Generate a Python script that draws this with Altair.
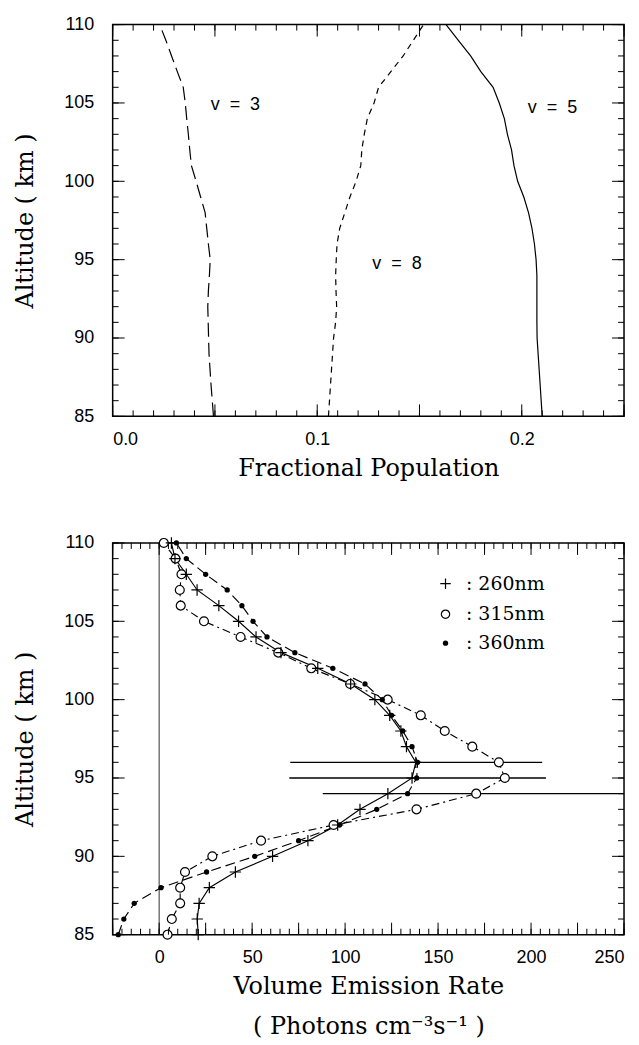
import altair as alt
import numpy as np
import pandas as pd

# ---------------- data ----------------
ALT = list(range(110, 84, -1))  # 110 ... 85 km

# top panel: fractional population
V3 = [0.023, 0.026, 0.0288, 0.0316, 0.0345, 0.0355, 0.0362, 0.037, 0.0377, 0.0385,
      0.0408, 0.043, 0.0452, 0.046, 0.0468, 0.0477, 0.0473, 0.0468, 0.0465, 0.0467,
      0.0469, 0.0471, 0.0476, 0.0481, 0.0487, 0.0493]
V8 = [0.152, 0.147, 0.142, 0.136, 0.130, 0.1278, 0.1245, 0.123, 0.1218, 0.1213,
      0.119, 0.116, 0.1135, 0.111, 0.1097, 0.1093, 0.109, 0.1092, 0.1095, 0.109,
      0.108, 0.1075, 0.107, 0.1065, 0.106, 0.1055]
V5 = [0.163, 0.169, 0.175, 0.180, 0.186, 0.189, 0.1915, 0.193, 0.195, 0.1962,
      0.198, 0.201, 0.2033, 0.205, 0.2062, 0.207, 0.2074, 0.2074, 0.2074, 0.2074,
      0.2075, 0.208, 0.2085, 0.209, 0.2095, 0.210]

# bottom panel: volume emission rate
P260 = [6.6, 8.5, 14.6, 20.4, 32.1, 42.7, 52.1, 65.5, 85.3, 103, 116, 124, 130,
        133, 138, 136, 123, 108, 96, 80, 61, 41, 27, 21.5, 20.5, 21]
C315 = [2.5, 8.8, 12, 11.1, 11.6, 24.1, 43.8, 64.1, 81.8, 102.7, 122.9, 140.7,
        153.6, 168.4, 182.7, 185.9, 170.5, 138.4, 93.8, 54.8, 28.6, 13.9, 11.3,
        11.3, 6.8, 4.5]
D360 = [9.3, 14.6, 25, 36.6, 44.5, 50.5, 58, 73, 93.4, 110.7, 120, 125, 131, 136,
        139, 138.5, 133.6, 117, 97, 75, 51.4, 25.5, 1, -13.4, -19, -22]

ERR_ALT = [96, 95, 94]
ERR_LO = [70.5, 70, 88]
ERR_HI = [206, 208, 253]

# text labels (non-breaking spaces keep the wide spacing)
NB = "\u00a0\u00a0"
TOP_LABELS = ["v" + NB + "=" + NB + "3", "v" + NB + "=" + NB + "5",
              "v" + NB + "=" + NB + "8"]
TOP_LABEL_X = [0.060, 0.215, 0.139]
TOP_LABEL_Y = [104.9, 104.7, 94.7]

LEG_NAMES = [": 260nm", ": 315nm", ": 360nm"]
LEG_Y = [107.4, 105.45, 103.6]
LEG_SYM_X = 154
LEG_TXT_X = 165

Y_TICK_LABELS = [85, 90, 95, 100, 105, 110]
TOP_X_LABELS = [0.0, 0.1, 0.2]
BOT_X_LABELS = [0, 50, 100, 150, 200, 250]
ZERO = [0]

# ---------------- layout ----------------
W, H = 513, 393
MAJ, MIN = 12, 6
SANS = "Liberation Sans"
SERIF = "DejaVu Serif"
PLUS = "M-1,0L1,0M0,-1L0,1"

ysc = alt.Scale(domain=[85, 110], nice=False, zero=False)
xsc_top = alt.Scale(domain=[0, 0.25], nice=False, zero=False)
xsc_bot = alt.Scale(domain=[-25, 250], nice=False, zero=False)

yaxis = alt.Axis(values=Y_TICK_LABELS, title="Altitude ( km )", ticks=False,
                 domain=False, grid=False, labelPadding=19, titlePadding=26)
xaxis_top = alt.Axis(values=TOP_X_LABELS, format=".1f",
                     title="Fractional Population", ticks=False,
                     domain=False, grid=False, labelPadding=14, titlePadding=8)
xaxis_bot = alt.Axis(values=BOT_X_LABELS,
                     title=["Volume Emission Rate", "( Photons cm⁻³s⁻¹ )"],
                     ticks=False, domain=False, grid=False,
                     labelPadding=14, titlePadding=8, titleLineHeight=40)


def X(f, sc, ax):
    return alt.X(f, scale=sc, axis=ax)


def Y(f):
    return alt.Y(f, scale=ysc, axis=yaxis)


def tick_layers(xsc, xax, xmaj, xmin, ymaj, ymin):
    layers = []
    for vals, L in ((xmaj, MAJ), (xmin, MIN)):
        d = pd.DataFrame({"t": vals})
        base = alt.Chart(d).mark_rule(color="black", strokeWidth=1)
        layers.append(base.encode(x=X("t:Q", xsc, xax),
                                  y=alt.value(H), y2=alt.value(H - L)))
        layers.append(base.encode(x=X("t:Q", xsc, xax),
                                  y=alt.value(0), y2=alt.value(L)))
    for vals, L in ((ymaj, MAJ), (ymin, MIN)):
        d = pd.DataFrame({"t": vals})
        base = alt.Chart(d).mark_rule(color="black", strokeWidth=1)
        layers.append(base.encode(y=Y("t:Q"), x=alt.value(0), x2=alt.value(L)))
        layers.append(base.encode(y=Y("t:Q"), x=alt.value(W), x2=alt.value(W - L)))
    return layers


# ---------------- top panel ----------------
top_df = pd.DataFrame({"alt": ALT, "v3": V3, "v8": V8, "v5": V5})


def top_line(field, dash=None):
    kw = dict(color="black", strokeWidth=1.2)
    if dash:
        kw["strokeDash"] = dash
    return alt.Chart(top_df).mark_line(**kw).encode(
        x=X(field + ":Q", xsc_top, xaxis_top), y=Y("alt:Q"), order="alt:Q")


lab_df = pd.DataFrame({"t": TOP_LABELS, "x": TOP_LABEL_X, "y": TOP_LABEL_Y})
top_txt = alt.Chart(lab_df).mark_text(font=SANS, fontSize=18, color="black").encode(
    x=X("x:Q", xsc_top, xaxis_top), y=Y("y:Q"), text="t:N")

top = alt.layer(
    top_line("v5"), top_line("v3", [14, 6]), top_line("v8", [6, 5]), top_txt,
    *tick_layers(xsc_top, xaxis_top,
                 [round(v, 3) for v in np.arange(0, 0.2501, 0.05)],
                 [round(v, 3) for v in np.arange(0, 0.2501, 0.01)],
                 list(range(85, 111, 5)), list(range(85, 111))),
).properties(width=W, height=H)

# ---------------- bottom panel ----------------
bot_df = pd.DataFrame({"alt": ALT, "p": P260, "c": C315, "d": D360})
err_df = pd.DataFrame({"alt": ERR_ALT, "lo": ERR_LO, "hi": ERR_HI})
zero_df = pd.DataFrame({"z": ZERO})

zero_line = alt.Chart(zero_df).mark_rule(color="#333", strokeWidth=1).encode(
    x=X("z:Q", xsc_bot, xaxis_bot))

err = alt.Chart(err_df).mark_rule(color="black", strokeWidth=1.3, clip=True).encode(
    x=X("lo:Q", xsc_bot, xaxis_bot), x2="hi:Q", y=Y("alt:Q"))


def bot_line(field, dash=None, sw=1.15):
    kw = dict(color="black", strokeWidth=sw)
    if dash:
        kw["strokeDash"] = dash
    return alt.Chart(bot_df).mark_line(**kw).encode(
        x=X(field + ":Q", xsc_bot, xaxis_bot), y=Y("alt:Q"), order="alt:Q")


pt315 = alt.Chart(bot_df).mark_point(shape="circle", filled=True, fill="white",
                                     stroke="black", strokeWidth=1.2, size=80,
                                     opacity=1).encode(
    x=X("c:Q", xsc_bot, xaxis_bot), y=Y("alt:Q"))
pt260 = alt.Chart(bot_df).mark_point(shape=PLUS, filled=False, stroke="black",
                                     strokeWidth=1.2, size=130, opacity=1).encode(
    x=X("p:Q", xsc_bot, xaxis_bot), y=Y("alt:Q"))
pt360 = alt.Chart(bot_df).mark_point(shape="circle", filled=True, color="black",
                                     size=28, opacity=1).encode(
    x=X("d:Q", xsc_bot, xaxis_bot), y=Y("alt:Q"))

leg_df = pd.DataFrame({"t": LEG_NAMES, "y": LEG_Y, "sx": [LEG_SYM_X] * 3,
                       "tx": [LEG_TXT_X] * 3})
leg_txt = alt.Chart(leg_df).mark_text(font=SERIF, fontSize=19, align="left",
                                      color="black").encode(
    x=X("tx:Q", xsc_bot, xaxis_bot), y=Y("y:Q"), text="t:N")
leg_p = alt.Chart(leg_df.iloc[[0]]).mark_point(shape=PLUS, filled=False,
                                               stroke="black", strokeWidth=1.2,
                                               size=110, opacity=1).encode(
    x=X("sx:Q", xsc_bot, xaxis_bot), y=Y("y:Q"))
leg_c = alt.Chart(leg_df.iloc[[1]]).mark_point(shape="circle", filled=False,
                                               stroke="black", strokeWidth=1.2,
                                               size=70, opacity=1).encode(
    x=X("sx:Q", xsc_bot, xaxis_bot), y=Y("y:Q"))
leg_d = alt.Chart(leg_df.iloc[[2]]).mark_point(shape="circle", filled=True,
                                               color="black", size=28,
                                               opacity=1).encode(
    x=X("sx:Q", xsc_bot, xaxis_bot), y=Y("y:Q"))

bottom = alt.layer(
    bot_line("p"), zero_line, err, bot_line("c", [8, 4, 2, 4]),
    bot_line("d", [10, 5]), pt315, pt260, pt360,
    leg_txt, leg_p, leg_c, leg_d,
    *tick_layers(xsc_bot, xaxis_bot, list(range(-25, 251, 25)),
                 list(range(-25, 251, 5)),
                 list(range(85, 111, 5)), list(range(85, 111))),
).properties(width=W, height=H)

chart = alt.vconcat(top, bottom, spacing=52).configure_view(
    stroke="black", strokeWidth=1.5
).configure_axis(
    labelFont=SANS, labelFontSize=18, labelColor="black",
    titleFont=SERIF, titleFontSize=24, titleFontWeight="normal",
    titleColor="black",
)

chart.save("out.html", embed_options={"renderer": "svg", "actions": False})
